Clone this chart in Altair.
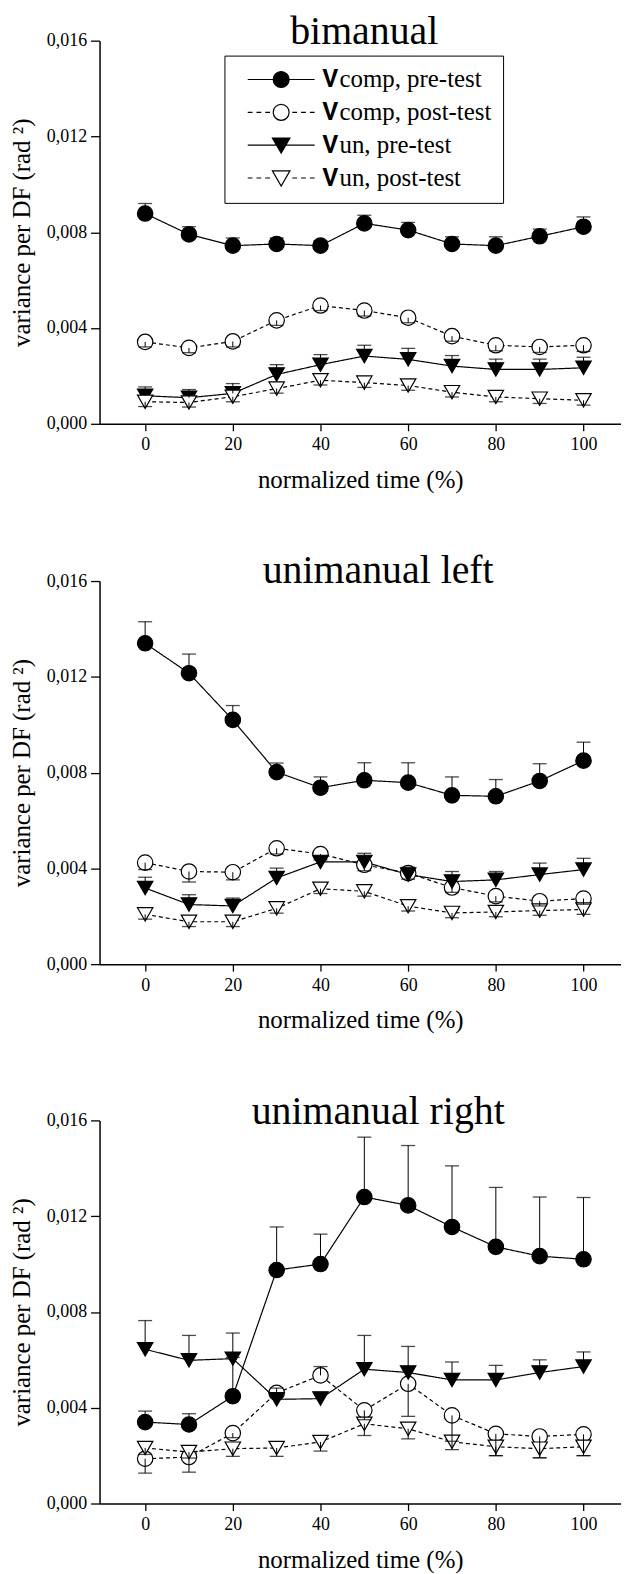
import altair as alt
import pandas as pd

TIME = [0, 10, 20, 30, 40, 50, 60, 70, 80, 90, 100]
SERIES = ["𝐕comp, pre-test", "𝐕comp, post-test", "𝐕un, pre-test", "𝐕un, post-test"]
X_TICKS = [0, 20, 40, 60, 80, 100]
Y_TICKS = [0.0, 0.004, 0.008, 0.012, 0.016]

# values (x 0.001 rad^2) and error-bar end points
BI_VCOMP_PRE = [8.78, 7.91, 7.44, 7.51, 7.44, 8.37, 8.09, 7.51, 7.44, 7.83, 8.23]
BI_VCOMP_PRE_CAP = [9.2, 8.23, 7.76, 7.76, 7.65, 8.71, 8.41, 7.81, 7.81, 8.13, 8.64]
BI_VCOMP_POST = [3.42, 3.17, 3.44, 4.32, 4.94, 4.73, 4.43, 3.66, 3.28, 3.21, 3.28]
BI_VCOMP_POST_CAP = [3.21, 2.97, 3.21, 4.11, 4.73, 4.5, 4.22, 3.45, 3.05, 2.98, 3.02]
BI_VUN_PRE = [1.17, 1.09, 1.27, 2.06, 2.47, 2.83, 2.69, 2.41, 2.27, 2.27, 2.34]
BI_VUN_PRE_CAP = [1.54, 1.43, 1.68, 2.47, 2.89, 3.28, 3.15, 2.85, 2.7, 2.7, 2.78]
BI_VUN_POST = [0.92, 0.89, 1.13, 1.47, 1.82, 1.72, 1.6, 1.32, 1.12, 1.05, 0.98]
BI_VUN_POST_CAP = [0.72, 0.7, 0.92, 1.28, 1.62, 1.52, 1.4, 1.12, 0.92, 0.85, 0.78]

UL_VCOMP_PRE = [13.4, 12.15, 10.2, 8.02, 7.37, 7.68, 7.58, 7.05, 7.01, 7.65, 8.5]
UL_VCOMP_PRE_CAP = [14.3, 12.95, 10.8, 8.4, 7.82, 8.41, 8.41, 7.82, 7.71, 8.37, 9.27]
UL_VCOMP_POST = [4.24, 3.87, 3.84, 4.84, 4.6, 4.15, 3.8, 3.2, 2.84, 2.63, 2.74]
UL_VCOMP_POST_CAP = [3.95, 3.43, 3.52, 4.6, 4.35, 3.9, 3.55, 3.0, 2.6, 2.43, 2.5]
UL_VUN_PRE = [3.18, 2.49, 2.43, 3.6, 4.27, 4.27, 3.74, 3.45, 3.52, 3.74, 3.95]
UL_VUN_PRE_CAP = [3.63, 2.9, 2.76, 4.01, 4.5, 4.63, 4.05, 3.87, 3.87, 4.22, 4.42]
UL_VUN_POST = [2.08, 1.77, 1.77, 2.33, 3.15, 3.04, 2.42, 2.14, 2.18, 2.24, 2.28]
UL_VUN_POST_CAP = [1.88, 1.57, 1.57, 2.13, 2.95, 2.84, 2.22, 1.94, 1.98, 2.04, 2.08]

UR_VCOMP_PRE = [3.4, 3.3, 4.48, 9.75, 10.0, 12.8, 12.45, 11.55, 10.72, 10.33, 10.2]
UR_VCOMP_PRE_CAP = [3.86, 3.75, 6.1, 11.55, 11.25, 15.3, 14.95, 14.1, 13.2, 12.8, 12.78]
UR_VCOMP_POST = [1.87, 1.94, 2.94, 4.62, 5.35, 3.89, 5.0, 3.68, 2.91, 2.8, 2.89]
UR_VCOMP_POST_CAP = [1.27, 1.31, 2.75, 4.82, 5.72, 3.5, 3.64, 2.6, 2.0, 1.91, 2.0]
UR_VUN_PRE = [6.44, 5.98, 6.05, 4.35, 4.38, 5.61, 5.47, 5.16, 5.16, 5.47, 5.72]
UR_VUN_PRE_CAP = [7.64, 7.02, 7.12, 4.45, 4.65, 7.02, 6.56, 5.91, 5.77, 6.0, 6.33]
UR_VUN_POST = [2.32, 2.15, 2.29, 2.32, 2.57, 3.33, 3.12, 2.58, 2.37, 2.29, 2.37]
UR_VUN_POST_CAP = [2.05, 1.9, 1.97, 1.97, 2.19, 2.84, 2.7, 2.25, 2.0, 1.91, 2.0]

PANELS = [
    ("bimanual", [BI_VCOMP_PRE, BI_VCOMP_POST, BI_VUN_PRE, BI_VUN_POST],
     [BI_VCOMP_PRE_CAP, BI_VCOMP_POST_CAP, BI_VUN_PRE_CAP, BI_VUN_POST_CAP]),
    ("unimanual left", [UL_VCOMP_PRE, UL_VCOMP_POST, UL_VUN_PRE, UL_VUN_POST],
     [UL_VCOMP_PRE_CAP, UL_VCOMP_POST_CAP, UL_VUN_PRE_CAP, UL_VUN_POST_CAP]),
    ("unimanual right", [UR_VCOMP_PRE, UR_VCOMP_POST, UR_VUN_PRE, UR_VUN_POST],
     [UR_VCOMP_PRE_CAP, UR_VCOMP_POST_CAP, UR_VUN_PRE_CAP, UR_VUN_POST_CAP]),
]

FONT = "Liberation Serif"
SHAPES = ["circle", "circle", "triangle-down", "triangle-down"]
FILLS = ["black", "white", "black", "white"]
STROKES = ["black", "black", "black", "black"]
SIZES = [240, 240, 290, 290]
DASHES = [[1, 0], [4, 3], [1, 0], [4, 3]]

# legend symbols: marker with a solid or dashed line through it
_solid_c = "M-4.2,0L-1,0M1,0L4.2,0M1,0A1,1,0,1,1,-1,0A1,1,0,1,1,1,0Z"
_dash_c = ("M-4.2,0L-3.6,0M-3.1,0L-2.5,0M-2.0,0L-1.4,0"
           "M1.4,0L2.0,0M2.5,0L3.1,0M3.6,0L4.2,0"
           "M1,0A1,1,0,1,1,-1,0A1,1,0,1,1,1,0Z")
_solid_t = "M-4.2,0L-0.58,0M0.58,0L4.2,0M-1.1,-0.9L1.1,-0.9L0,1.0Z"
_dash_t = ("M-4.2,0L-3.6,0M-3.1,0L-2.5,0M-2.0,0L-1.4,0"
           "M1.4,0L2.0,0M2.5,0L3.1,0M3.6,0L4.2,0"
           "M-1.1,-0.9L1.1,-0.9L0,1.0Z")
LEGEND_PATHS = [_solid_c, _dash_c, _solid_t, _dash_t]

TITLE_DX = [4, 18, 18]
TITLE_DY = [20.4, 19.2, 20.5]


def make_df(vals, caps):
    rows = []
    for s, v, c in zip(SERIES, vals, caps):
        for t, a, b in zip(TIME, v, c):
            rows.append({"series": s, "t": t, "v": a / 1000.0, "cap": b / 1000.0})
    return pd.DataFrame(rows)


def make_panel(i, title, vals, caps):
    df = make_df(vals, caps)
    base = alt.Chart(df)
    xs = alt.Scale(domain=[-10.4, 108.55], nice=False, zero=False)
    ys = alt.Scale(domain=[0, 0.016], nice=False)
    xaxis = alt.Axis(values=X_TICKS, title="normalized time (%)", format="d")
    yaxis = alt.Axis(values=Y_TICKS, title="variance per DF (rad ²)",
                     labelExpr="replace(format(datum.value, '.3f'), '.', ',')")
    x = alt.X("t:Q", scale=xs, axis=xaxis)
    y = alt.Y("v:Q", scale=ys, axis=yaxis)
    ycap = alt.Y("cap:Q", scale=ys, axis=yaxis)

    lines = base.mark_line(color="black", strokeWidth=1.2).encode(
        x=x, y=y,
        strokeDash=alt.StrokeDash("series:N", scale=alt.Scale(domain=SERIES, range=DASHES), legend=None),
    )
    points = base.mark_point(opacity=1, fillOpacity=1, stroke="black", strokeWidth=1.2).encode(
        x=x, y=y,
        shape=alt.Shape("series:N", scale=alt.Scale(domain=SERIES, range=SHAPES), legend=None),
        fill=alt.Fill("series:N", scale=alt.Scale(domain=SERIES, range=FILLS), legend=None),
        size=alt.Size("series:N", scale=alt.Scale(domain=SERIES, range=SIZES), legend=None),
    )
    rules = base.mark_rule(color="black", strokeWidth=1).encode(x=x, y=y, y2="cap:Q")
    ticks = base.mark_tick(color="black", thickness=1.3, size=14, orient="horizontal").encode(x=x, y=ycap)

    layers = [lines, points, rules, ticks]
    if i == 0:
        leg = alt.Legend(
            title=None, orient="none", legendX=125.5, legendY=15,
            labelFont="Liberation Serif, DejaVu Serif", labelFontSize=25, labelColor="black",
            labelLimit=400,
            symbolSize=256, symbolStrokeWidth=1.2, symbolStrokeColor="black",
            symbolOpacity=1, symbolOffset=33, labelOffset=29,
            rowPadding=7, padding=11.5, strokeColor="black", fillColor="white",
        )
        dummy = base.mark_point(opacity=0, fillOpacity=1, strokeWidth=1.2).encode(
            x=x, y=y,
            shape=alt.Shape("series:N", scale=alt.Scale(domain=SERIES, range=LEGEND_PATHS), legend=leg),
            fill=alt.Fill("series:N", scale=alt.Scale(domain=SERIES, range=FILLS), legend=leg),
            stroke=alt.Stroke("series:N", scale=alt.Scale(domain=SERIES, range=STROKES), legend=leg),
        )
        layers.append(dummy)

    return alt.layer(*layers).resolve_scale(
        shape="independent", fill="independent", stroke="independent"
    ).properties(
        width=524, height=385,
        title=alt.TitleParams(title, font=FONT, fontSize=40, fontWeight="normal", color="black",
                              anchor="middle", offset=0, dx=TITLE_DX[i], dy=TITLE_DY[i]),
    )


panels = [make_panel(i, t, v, c) for i, (t, v, c) in enumerate(PANELS)]

chart = alt.vconcat(*panels, spacing=59).properties(
    padding={"left": 1, "top": 0, "right": 0, "bottom": 0}
).configure_axis(
    labelFont=FONT, labelFontSize=18, labelColor="black",
    titleFont=FONT, titleFontSize=25, titleFontWeight="normal", titleColor="black",
    domainColor="black", tickColor="black", domainWidth=1.5, tickWidth=1.3, grid=False,
).configure_axisX(
    tickSize=7, labelPadding=5, titlePadding=14,
).configure_axisY(
    tickSize=9, labelPadding=4, titlePadding=12,
).configure_view(stroke=None)

chart.save("out.html", embed_options={"renderer": "svg", "actions": False})
